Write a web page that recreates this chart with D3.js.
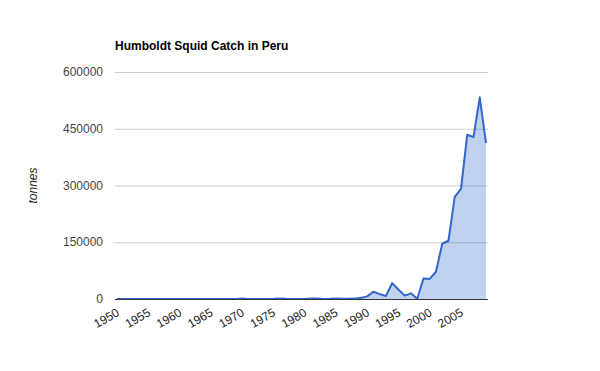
<!DOCTYPE html>
<html>
<head>
<meta charset="utf-8">
<script src="https://cdn.jsdelivr.net/npm/d3@7"></script>
<style>
  body { margin: 0; background: #fff; }
  text { font-family: "Liberation Sans", Arial, sans-serif; }
</style>
</head>
<body>
<div id="chart"></div>
<script>
const width = 600;
const height = 371;
const margin = {left: 117, right: 114, top: 72, bottom: 72};

// catch in tonnes, 1950 - 2009
const years = d3.range(1950, 2010);
const catchTonnes = [
  0, 0, 0, 0, 0, 0, 0, 0, 0, 0,             // 1950s
  0, 0, 0, 0, 0, 0, 0, 0, 0, 300,           // 1960s
  1500, 300, 0, 0, 0, 500, 1500, 500, 0, 0, // 1970s
  300, 1000, 1500, 0, 500, 1500, 500, 500, 1000, 3000, // 1980s
  7000, 19000, 13000, 8000, 42000, 25000, 9000, 15000, 500, 54000, // 1990s
  53000, 72000, 146000, 154000, 270000, 291000, 434000, 428000, 533000, 412000 // 2000s
];
const yTicks = [0, 150000, 300000, 450000, 600000];
const xTicks = [1950, 1955, 1960, 1965, 1970, 1975, 1980, 1985, 1990, 1995, 2000, 2005];

const data = years.map((y, i) => ({year: y, value: catchTonnes[i]}));

const svg = d3.select("#chart")
  .append("svg")
  .attr("width", width)
  .attr("height", height);

let xScale = d3.scaleLinear()
  .domain([1950, 2009])
  .range([margin.left, width - margin.right]);

let yScale = d3.scaleLinear()
  .domain([0, 600000])
  .range([height - margin.bottom, margin.top]);

// gridlines
svg.append("g")
  .selectAll("line")
  .data(yTicks.slice(1))
  .enter()
  .append("line")
    .attr("x1", margin.left - 2)
    .attr("x2", width - margin.right + 2)
    .attr("y1", d => yScale(d) + 0.5)
    .attr("y2", d => yScale(d) + 0.5)
    .attr("stroke", "#cccccc");

// y labels
svg.append("g")
  .selectAll("text")
  .data(yTicks)
  .enter()
  .append("text")
    .attr("x", margin.left - 14)
    .attr("y", d => yScale(d) + 4)
    .attr("text-anchor", "end")
    .attr("font-size", "12px")
    .attr("fill", "#444")
    .text(d => d);

// area + line
const area = d3.area()
  .x(d => xScale(d.year))
  .y0(yScale(0))
  .y1(d => yScale(d.value));

const line = d3.line()
  .x(d => xScale(d.year))
  .y(d => yScale(d.value));

svg.append("path")
  .datum(data)
  .attr("d", area)
  .attr("fill", "#3366cc")
  .attr("fill-opacity", 0.3);

svg.append("path")
  .datum(data)
  .attr("d", line)
  .attr("fill", "none")
  .attr("stroke", "#3366cc")
  .attr("stroke-width", 2)
  .attr("stroke-linejoin", "round");

// baseline
svg.append("line")
  .attr("x1", margin.left - 2)
  .attr("x2", width - margin.right + 2)
  .attr("y1", yScale(0) + 0.5)
  .attr("y2", yScale(0) + 0.5)
  .attr("stroke", "#333");

// x labels, slanted
svg.append("g")
  .selectAll("text")
  .data(xTicks)
  .enter()
  .append("text")
    .attr("transform", d => `translate(${xScale(d) + 3},${yScale(0) + 16}) rotate(-30)`)
    .attr("text-anchor", "end")
    .attr("font-size", "12px")
    .attr("fill", "#222")
    .text(d => d);

// title
svg.append("text")
  .attr("x", 115)
  .attr("y", 50)
  .attr("font-size", "12px")
  .attr("font-weight", "bold")
  .attr("fill", "#000")
  .text("Humboldt Squid Catch in Peru");

// y axis title
svg.append("text")
  .attr("transform", `translate(37,${(yScale(0) + yScale(600000)) / 2}) rotate(-90)`)
  .attr("text-anchor", "middle")
  .attr("font-size", "12px")
  .attr("font-style", "italic")
  .attr("fill", "#222")
  .text("tonnes");
</script>
</body>
</html>
